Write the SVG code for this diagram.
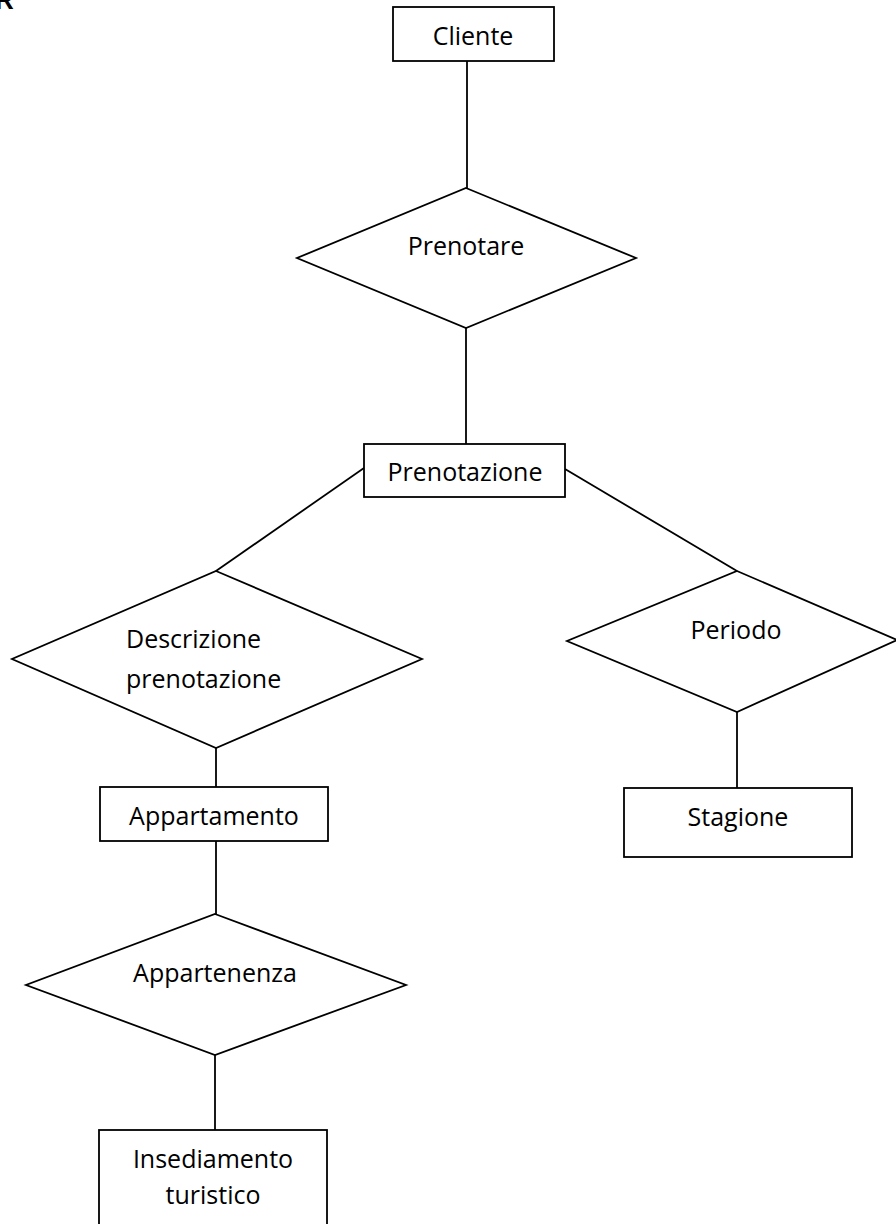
<svg xmlns="http://www.w3.org/2000/svg" width="896" height="1224" viewBox="0 0 896 1224">
<style>
.shape{fill:#fff;stroke:#000;stroke-width:1.8}
.conn{stroke:#000;stroke-width:1.8;fill:none}
.lbl{font-family:"Open Sans","Liberation Sans",sans-serif;font-size:25px;fill:#000}
.c{text-anchor:middle}
.title{font-family:"Liberation Sans",sans-serif;font-size:26px;font-weight:bold;fill:#000}
</style>
<rect width="896" height="1224" fill="#fff"/>
<text class="title" x="-5" y="9">R</text>
<g id="connectors">
<line class="conn" x1="467" y1="61" x2="467" y2="188"/>
<line class="conn" x1="466" y1="328" x2="466" y2="444"/>
<line class="conn" x1="364" y1="468" x2="216" y2="571"/>
<line class="conn" x1="565" y1="469" x2="737" y2="571"/>
<line class="conn" x1="216" y1="748" x2="216" y2="787"/>
<line class="conn" x1="737" y1="712" x2="737" y2="788"/>
<line class="conn" x1="216" y1="841" x2="216" y2="914"/>
<line class="conn" x1="215" y1="1055" x2="215" y2="1130"/>
</g>
<g id="cliente">
<rect class="shape" x="393" y="7" width="161" height="54"/>
<text class="lbl c" x="473" y="45">Cliente</text>
</g>
<g id="prenotare">
<polygon class="shape" points="466,188 636,258 466,328 297,258"/>
<text class="lbl c" x="466" y="255">Prenotare</text>
</g>
<g id="prenotazione">
<rect class="shape" x="364" y="444" width="201" height="53"/>
<text class="lbl c" x="465" y="481">Prenotazione</text>
</g>
<g id="descrizione-prenotazione">
<polygon class="shape" points="216,571 422,659 216,748 12,659"/>
<text class="lbl" x="126" y="648">Descrizione</text>
<text class="lbl" x="126" y="688">prenotazione</text>
</g>
<g id="periodo">
<polygon class="shape" points="737,571 897,640 737,712 567,641"/>
<text class="lbl c" x="736" y="639">Periodo</text>
</g>
<g id="stagione">
<rect class="shape" x="624" y="788" width="228" height="69"/>
<text class="lbl c" x="738" y="826">Stagione</text>
</g>
<g id="appartamento">
<rect class="shape" x="100" y="787" width="228" height="54"/>
<text class="lbl c" x="214" y="825">Appartamento</text>
</g>
<g id="appartenenza">
<polygon class="shape" points="215,914 406,985 215,1055 26,985"/>
<text class="lbl c" x="215" y="982">Appartenenza</text>
</g>
<g id="insediamento-turistico">
<rect class="shape" x="99" y="1130" width="228" height="120"/>
<text class="lbl c" x="213" y="1168">Insediamento</text>
<text class="lbl c" x="213" y="1204">turistico</text>
</g>
</svg>
